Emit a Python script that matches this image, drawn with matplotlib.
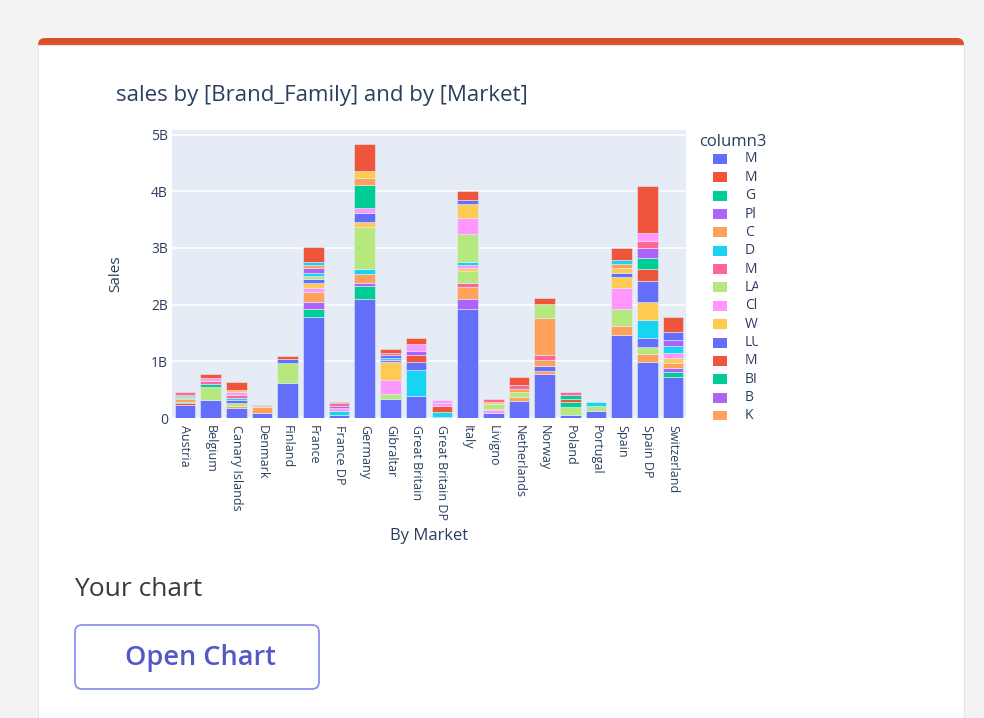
import matplotlib
matplotlib.use("Agg")
import matplotlib.pyplot as plt
from matplotlib.patches import Rectangle, FancyBboxPatch
import numpy as np

plt.rcParams['font.family'] = ['Open Sans', 'DejaVu Sans']

markets = ["Austria", "Belgium", "Canary Islands", "Denmark", "Finland", "France",
           "France DP", "Germany", "Gibraltar", "Great Britain", "Great Britain DP",
           "Italy", "Livigno", "Netherlands", "Norway", "Poland", "Portugal", "Spain",
           "Spain DP", "Switzerland"]

# legend entries that are visible (the rest of the legend is cut off)
legend_names = ["M", "M", "G", "Pl", "C", "D", "M", "LA", "Cl", "W", "LU", "M", "BI", "B", "K"]

palette = ['#636EFA', '#EF553B', '#00CC96', '#AB63FA', '#FFA15A',
           '#19D3F3', '#FF6692', '#B6E880', '#FF97FF', '#FECB52']

# (brand number, sales in billions), per market
austria = [(0, 0.23), (1, 0.03), (2, 0.03), (4, 0.04), (5, 0.03), (7, 0.03), (10, 0.02), (16, 0.05)]
belgium = [(0, 0.31), (7, 0.23), (12, 0.065), (16, 0.05), (18, 0.05), (21, 0.07)]
canary_islands = [(0, 0.18), (4, 0.04), (7, 0.05), (10, 0.05), (15, 0.04), (16, 0.05), (18, 0.04), (19, 0.04), (21, 0.15)]
denmark = [(0, 0.09), (4, 0.10), (9, 0.02), (16, 0.02)]
finland = [(0, 0.61), (7, 0.36), (10, 0.07), (11, 0.05)]
france = [(0, 1.78), (2, 0.135), (3, 0.13), (4, 0.18), (8, 0.06), (9, 0.10), (10, 0.06), (17, 0.065),
          (25, 0.04), (33, 0.09), (34, 0.06), (35, 0.05), (41, 0.26)]
france_dp = [(0, 0.05), (5, 0.07), (8, 0.06), (13, 0.04), (16, 0.04), (21, 0.03)]
germany = [(0, 2.10), (2, 0.22), (3, 0.06), (4, 0.16), (5, 0.09), (7, 0.74), (9, 0.08), (10, 0.16),
           (18, 0.09), (22, 0.41), (24, 0.12), (29, 0.12), (31, 0.48)]
gibraltar = [(0, 0.34), (7, 0.09), (8, 0.235), (9, 0.32), (13, 0.04), (15, 0.03), (20, 0.05), (26, 0.05), (31, 0.06)]
great_britain = [(0, 0.39), (5, 0.45), (10, 0.15), (11, 0.12), (13, 0.08), (18, 0.12), (21, 0.10)]
great_britain_dp = [(0, 0.02), (5, 0.09), (11, 0.105), (18, 0.05), (28, 0.05)]
italy = [(0, 1.92), (3, 0.18), (4, 0.21), (6, 0.07), (7, 0.21), (9, 0.05), (18, 0.06), (25, 0.06),
         (27, 0.48), (28, 0.28), (29, 0.25), (30, 0.08), (31, 0.16)]
livigno = [(0, 0.095), (8, 0.04), (14, 0.03), (17, 0.075), (19, 0.04), (26, 0.06)]
netherlands = [(0, 0.30), (4, 0.07), (7, 0.09), (14, 0.06), (16, 0.06), (21, 0.135)]
norway = [(0, 0.77), (4, 0.06), (10, 0.08), (14, 0.12), (16, 0.08), (24, 0.65), (27, 0.25), (31, 0.10)]
poland = [(0, 0.05), (7, 0.15), (12, 0.08), (21, 0.06), (22, 0.06), (26, 0.06)]
portugal = [(0, 0.12), (7, 0.09), (15, 0.08)]
spain = [(0, 1.47), (4, 0.15), (7, 0.31), (8, 0.37), (9, 0.18), (10, 0.08), (19, 0.09), (24, 0.07),
         (25, 0.06), (31, 0.22)]
spain_dp = [(0, 0.98), (4, 0.15), (7, 0.12), (10, 0.165), (15, 0.31), (19, 0.32), (20, 0.38),
            (21, 0.21), (22, 0.18), (23, 0.18), (26, 0.12), (28, 0.15), (31, 0.82)]
switzerland = [(0, 0.72), (2, 0.09), (3, 0.08), (4, 0.08), (9, 0.09), (18, 0.09), (25, 0.12),
               (33, 0.10), (40, 0.15), (41, 0.26)]

market_segments = [austria, belgium, canary_islands, denmark, finland, france, france_dp,
                   germany, gibraltar, great_britain, great_britain_dp, italy, livigno,
                   netherlands, norway, poland, portugal, spain, spain_dp, switzerland]

n_brands = max(b for seg in market_segments for b, _ in seg) + 1
sales = np.zeros((n_brands, len(markets)))
for j, seg in enumerate(market_segments):
    for b, v in seg:
        sales[b, j] = v

W, H = 984, 718
fig = plt.figure(figsize=(W / 100, H / 100), dpi=100)
fig.patch.set_facecolor('#f3f3f3')
TXT = '#2a3f5f'

# page / card background in pixel coordinates
bg = fig.add_axes([0, 0, 1, 1])
bg.set_xlim(0, W)
bg.set_ylim(H, 0)
bg.axis('off')
bg.add_patch(FancyBboxPatch((38, 38), 926, 700, boxstyle="round,pad=0,rounding_size=7",
                            fc='#db5028', ec='none'))
bg.add_patch(Rectangle((38, 45), 926, 680, fc='white', ec='#e4e4e4', lw=0.8))
bg.text(74, 590, "Your chart", fontsize=19, color='#3b3b3b', va='center', ha='left')
bg.add_patch(FancyBboxPatch((75, 625), 244, 64, boxstyle="round,pad=0,rounding_size=7",
                            fc='white', ec='#8c90f2', lw=1.3))
bg.text(200, 658, "Open Chart", fontsize=19.5, color='#5457c6', va='center', ha='center',
        fontweight='semibold')
bg.text(116, 95, "sales by [Brand_Family] and by [Market]", fontsize=16, color=TXT,
        va='center', ha='left')

# chart
ax = fig.add_axes([172 / W, 1 - 418 / H, 514 / W, 288 / H])
ax.set_facecolor('#E5ECF6')
x = np.arange(len(markets))
bottom = np.zeros(len(markets))
for b in range(n_brands):
    mask = sales[b] > 0
    if mask.any():
        ax.bar(x[mask], sales[b][mask], bottom=bottom[mask], width=0.8,
               color=palette[b % 10], edgecolor='#E5ECF6', linewidth=0.4, zorder=3)
    bottom += sales[b]

ax.set_xlim(-0.5, len(markets) - 0.5)
ax.set_ylim(0, 5.08)
ax.set_yticks([0, 1, 2, 3, 4, 5])
ax.set_yticklabels(['0', '1B', '2B', '3B', '4B', '5B'])
ax.grid(axis='y', color='white', linewidth=1.2, zorder=0)
ax.set_axisbelow(True)
for s in ax.spines.values():
    s.set_visible(False)
ax.tick_params(length=0, labelsize=9, labelcolor=TXT)
ax.tick_params(axis='y', pad=3, labelsize=10)
ax.tick_params(axis='x', pad=5)
ax.set_xticks(x)
ax.set_xticklabels(markets, rotation=-90, ha='center', va='top')
ax.set_ylabel("Sales", fontsize=11, color=TXT, labelpad=20)
ax.set_xlabel("By Market", fontsize=12, color=TXT, labelpad=6)

# legend (cut off on the right and at the bottom, as in the page)
lax = fig.add_axes([695 / W, 1 - 420 / H, 63 / W, 290 / H])
lax.set_xlim(695, 758)
lax.set_ylim(420, 130)
lax.axis('off')
lax.text(699, 142, "column3", fontsize=12, color=TXT, va='center', ha='left', clip_on=False)
for i, name in enumerate(legend_names):
    yy = 159 + 18.35 * i
    lax.add_patch(Rectangle((713, yy - 5), 14, 10, fc=palette[i % 10], ec='none', clip_on=True))
    lax.text(745, yy, name, fontsize=10, color=TXT, va='center', ha='left', clip_on=True)

fig.savefig("out.png", dpi=100, facecolor=fig.get_facecolor())
